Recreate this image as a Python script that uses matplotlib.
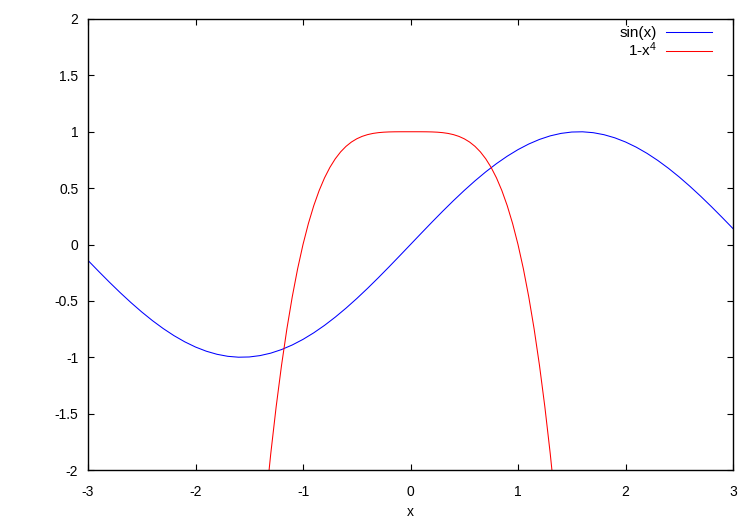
import numpy as np
import matplotlib
matplotlib.use("Agg")
import matplotlib.pyplot as plt

# sin(x) read at 0.1 steps over [-3, 3]
x_sin = [round(-3 + 0.1 * i, 1) for i in range(61)]
y_sin = [-0.1411, -0.2392, -0.3350, -0.4274, -0.5155, -0.5985, -0.6755, -0.7457, -0.8085, -0.8632,
         -0.9093, -0.9463, -0.9738, -0.9917, -0.9996, -0.9975, -0.9854, -0.9636, -0.9320, -0.8912,
         -0.8415, -0.7833, -0.7174, -0.6442, -0.5646, -0.4794, -0.3894, -0.2955, -0.1987, -0.0998,
         0.0,
         0.0998, 0.1987, 0.2955, 0.3894, 0.4794, 0.5646, 0.6442, 0.7174, 0.7833, 0.8415,
         0.8912, 0.9320, 0.9636, 0.9854, 0.9975, 0.9996, 0.9917, 0.9738, 0.9463, 0.9093,
         0.8632, 0.8085, 0.7457, 0.6755, 0.5985, 0.5155, 0.4274, 0.3350, 0.2392, 0.1411]

# 1-x^4 read at 0.05 steps over [-1.35, 1.35]
x_quart = [round(-1.35 + 0.05 * i, 2) for i in range(55)]
y_quart = [-2.3215, -1.8561, -1.4414, -1.0736, -0.7490, -0.4641, -0.2155, 0.0, 0.1855, 0.3439,
           0.4780, 0.5904, 0.6836, 0.7599, 0.8215, 0.8704, 0.9085, 0.9375, 0.9590, 0.9744,
           0.9850, 0.9919, 0.9961, 0.9984, 0.9995, 0.9999, 1.0000,
           1.0,
           1.0000, 0.9999, 0.9995, 0.9984, 0.9961, 0.9919, 0.9850, 0.9744, 0.9590, 0.9375,
           0.9085, 0.8704, 0.8215, 0.7599, 0.6836, 0.5904, 0.4780, 0.3439, 0.1855, 0.0,
           -0.2155, -0.4641, -0.7490, -1.0736, -1.4414, -1.8561, -2.3215]

x_ticks = [-3, -2, -1, 0, 1, 2, 3]
y_ticks = [-2, -1.5, -1, -0.5, 0, 0.5, 1, 1.5, 2]
y_ticklabels = ["-2", "-1.5", "-1", "-0.5", "0", "0.5", "1", "1.5", "2"]

plt.rcParams['font.family'] = ['Liberation Sans', 'DejaVu Sans']
plt.rcParams['font.size'] = 10
plt.rcParams['mathtext.default'] = 'regular'

fig = plt.figure(figsize=(7.5, 5.25), dpi=100)
ax = fig.add_axes([88 / 750, 55 / 525, 645 / 750, 451 / 525])

ax.plot(x_sin, y_sin, color='#0000ff', linewidth=0.75, label='sin(x)')
ax.plot(x_quart, y_quart, color='#ff0000', linewidth=0.75, label='1-x$^4$')

ax.set_xlim(-3, 3)
ax.set_ylim(-2, 2)
ax.set_xticks(x_ticks)
ax.set_xticklabels([str(t) for t in x_ticks])
ax.set_yticks(y_ticks)
ax.set_yticklabels(y_ticklabels)
ax.tick_params(direction='in', length=4, width=0.8, top=True, right=True)
ax.tick_params(axis='x', pad=11)
ax.tick_params(axis='y', pad=7)
for sp in ax.spines.values():
    sp.set_linewidth(1.0)

ax.set_xlabel('x', labelpad=4)

# key in the top right corner, text right-aligned before the line sample
leg = ax.legend(loc='upper right', bbox_to_anchor=(712 / 750, 1 - 26 / 525),
                bbox_transform=fig.transFigure, frameon=False, markerfirst=False,
                handlelength=3.0, handletextpad=0.6, labelspacing=0.05,
                borderpad=0, borderaxespad=0, fontsize=11)
for t in leg.get_texts():
    t.set_horizontalalignment('right')

plt.savefig("out.png", dpi=100)
